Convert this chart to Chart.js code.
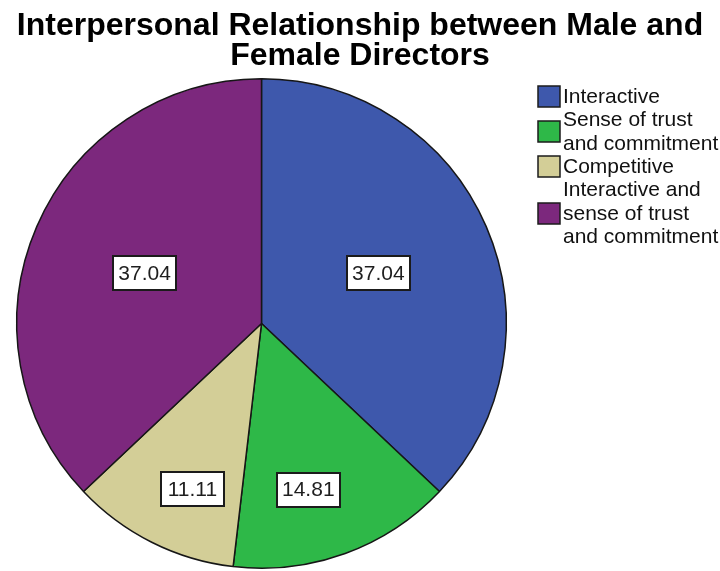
<!DOCTYPE html>
<html>
<head>
<meta charset="utf-8">
<title>Interpersonal Relationship between Male and Female Directors</title>
<script src="https://cdn.jsdelivr.net/npm/chart.js@4"></script>
<style>
  html, body { margin: 0; padding: 0; background: #fff; }
  #wrap { width: 720px; height: 571px; position: relative; }
</style>
</head>
<body>
<div id="wrap"><canvas id="chart" width="720" height="571"></canvas></div>
<script>
const titleLines = ["Interpersonal Relationship between Male and", "Female Directors"];
const categories = ["Interactive", "Sense of trust and commitment", "Competitive", "Interactive and sense of trust and commitment"];
const legendLines = [["Interactive"], ["Sense of trust", "and commitment"], ["Competitive"], ["Interactive and", "sense of trust", "and commitment"]];
const percents = [37.04, 14.81, 11.11, 37.04];
const sliceColors = ["#3E58AC", "#2EB848", "#D3CE97", "#7C287D"];

const FONT = '"Liberation Sans", Arial, sans-serif';

// value boxes inside each slice
const boxLabels = {
  id: "boxLabels",
  afterDatasetsDraw(chart, args, opts) {
    const ctx = chart.ctx;
    const meta = chart.getDatasetMeta(0);
    const values = chart.data.datasets[0].data;
    ctx.save();
    ctx.font = "21px " + FONT;
    ctx.textAlign = "center";
    ctx.textBaseline = "middle";
    meta.data.forEach((arc, i) => {
      const p = arc.getProps(["x", "y", "startAngle", "endAngle", "outerRadius"], true);
      const a = p.startAngle + (p.endAngle - p.startAngle) * opts.along[i];
      const r = p.outerRadius * opts.radius[i];
      const cx = p.x + Math.cos(a) * r;
      const cy = p.y + Math.sin(a) * r;
      const text = values[i].toFixed(2);
      const w = 63, h = 34;
      const x0 = Math.round(cx - w / 2), y0 = Math.round(cy - h / 2);
      ctx.fillStyle = "#fff";
      ctx.fillRect(x0, y0, w, h);
      ctx.lineWidth = 2;
      ctx.strokeStyle = "#1b1b1b";
      ctx.strokeRect(x0, y0, w, h);
      ctx.fillStyle = "#1e1e1e";
      ctx.fillText(text, cx, cy + 1);
    });
    ctx.restore();
  }
};

// title and the legend on the right
const sideText = {
  id: "sideText",
  afterDraw(chart) {
    const ctx = chart.ctx;
    ctx.save();
    ctx.fillStyle = "#000";
    ctx.textAlign = "center";
    ctx.textBaseline = "alphabetic";
    ctx.font = "bold 32px " + FONT;
    titleLines.forEach((t, i) => ctx.fillText(t, 360, 35 + i * 30));

    const colors = chart.data.datasets[0].backgroundColor;
    const lineH = 23.3;
    let base = 103;
    ctx.textAlign = "left";
    ctx.font = "21px " + FONT;
    legendLines.forEach((lines, i) => {
      const first = base;
      lines.forEach(l => {
        ctx.fillStyle = "#111";
        ctx.fillText(l, 563, base);
        base += lineH;
      });
      const last = base - lineH;
      const mid = (first + last) / 2 - 6.5;
      ctx.fillStyle = colors[i];
      ctx.fillRect(538, Math.round(mid - 10.5), 22, 21);
      ctx.lineWidth = 1.5;
      ctx.strokeStyle = "#1b1b1b";
      ctx.strokeRect(538, Math.round(mid - 10.5), 22, 21);
    });
    ctx.restore();
  }
};

const ctx = document.getElementById("chart").getContext("2d");
const myChart = new Chart(ctx, {
  type: "pie",
  data: {
    labels: categories,
    datasets: [
      {
        data: percents,
        backgroundColor: sliceColors,
        borderColor: "#161616",
        borderWidth: 1.5
      }
    ]
  },
  options: {
    responsive: false,
    animation: false,
    layout: { padding: { left: 16, right: 213, top: 78, bottom: 2 } },
    plugins: {
      legend: { display: false },
      title: { display: false },
      tooltip: { enabled: false },
      boxLabels: {
        along: [0.5, 0.58, 0.4, 0.5],
        radius: [0.52, 0.705, 0.733, 0.52]
      }
    }
  },
  plugins: [boxLabels, sideText]
});
</script>
</body>
</html>
